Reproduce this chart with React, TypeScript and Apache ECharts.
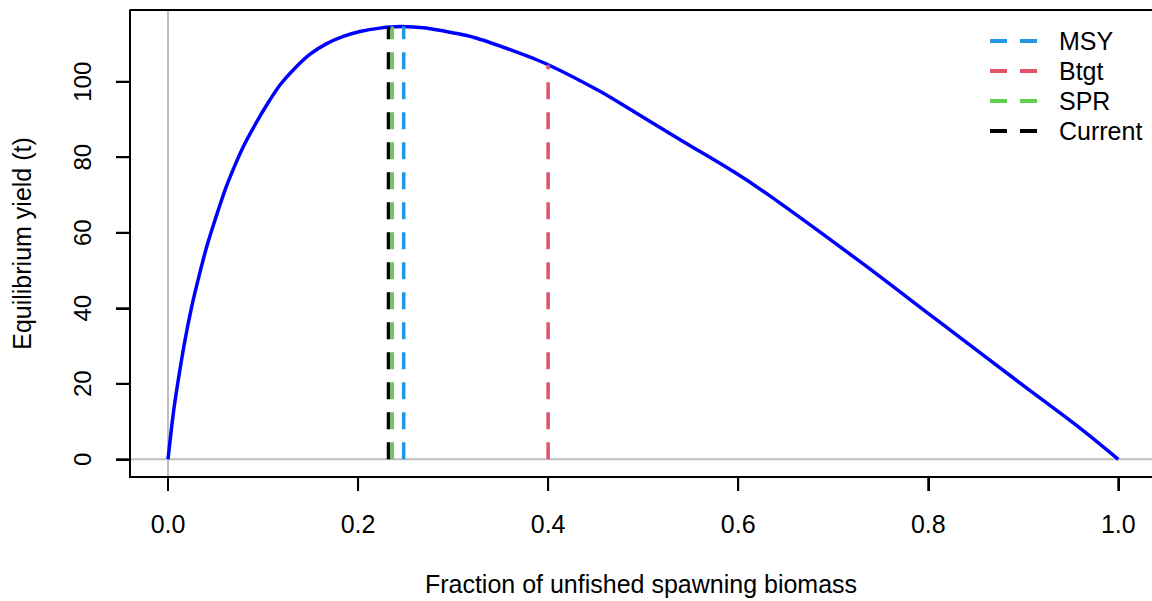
import React, { useEffect, useRef } from "react";
import * as echarts from "echarts";

// Equilibrium yield curve: [fraction of unfished spawning biomass, yield (t)]
const curveX = [0, 0.0056, 0.0108, 0.0179, 0.0249, 0.0319, 0.0407, 0.0495, 0.06, 0.0705, 0.081, 0.0934, 0.105, 0.118, 0.132, 0.1495, 0.167, 0.1845, 0.202, 0.223, 0.244, 0.262, 0.279, 0.321, 0.36, 0.4, 0.455, 0.49, 0.542, 0.595, 0.636, 0.728, 0.809, 0.897, 0.96, 1.0];
const curveY = [0, 12.2, 21.0, 31.6, 40.4, 47.8, 56.3, 63.4, 71.3, 77.9, 83.7, 89.4, 94.3, 99.2, 103.2, 107.3, 110.1, 112.0, 113.3, 114.2, 114.6, 114.4, 113.9, 111.8, 108.5, 104.5, 97.4, 92.1, 84.2, 76.2, 69.3, 52.4, 36.9, 20.1, 8.2, 0];

// Reference points (vertical dashed lines from 0 up to the curve)
const refNames = ["MSY", "Btgt", "SPR", "Current"];
const refX = [0.248, 0.4, 0.236, 0.232];
const refTop = [114.6, 104.5, 114.6, 114.5];
const refColors = ["#2297E6", "#DF536B", "#61D04F", "#000000"];

const xTicks = [0, 0.2, 0.4, 0.6, 0.8, 1.0];
const yTicks = [0, 20, 40, 60, 80, 100];

// Plot box limits (R style: data range extended by 4%)
const boxX = [-0.04, 1.04];
const boxY = [-4.69, 119.0];

const FONT = "'Liberation Sans', Arial, sans-serif";

export default function App() {
  const ref = useRef<HTMLDivElement>(null);
  useEffect(() => {
    if (!ref.current) return;
    const chart = echarts.init(ref.current, undefined, { renderer: "svg" });
    const dash = [17, 13];
    const tickLen = 14;

    const series: any[] = [
      {
        name: "ref0x",
        type: "line",
        data: [[0, boxY[0]], [0, boxY[1]]],
        symbol: "none",
        silent: true,
        clip: false,
        lineStyle: { color: "#BEBEBE", width: 2 },
        z: 1,
      },
      {
        name: "ref0y",
        type: "line",
        data: [[boxX[0], 0], [boxX[1], 0]],
        symbol: "none",
        silent: true,
        clip: false,
        lineStyle: { color: "#BEBEBE", width: 2 },
        z: 1,
      },
      {
        name: "Yield",
        type: "line",
        data: curveX.map((x, i) => [x, curveY[i]]),
        symbol: "none",
        smooth: 0.3,
        clip: false,
        lineStyle: { color: "#0000FF", width: 3.5 },
        z: 2,
      },
    ];
    refNames.forEach((n, i) => {
      series.push({
        name: n,
        type: "line",
        data: [[refX[i], 0], [refX[i], refTop[i]]],
        symbol: "none",
        clip: false,
        color: refColors[i],
        lineStyle: { color: refColors[i], width: 3.5, type: dash },
        z: 3 + i,
      });
    });
    series.push({
      name: "box",
      type: "line",
      data: [
        [boxX[0], boxY[0]],
        [boxX[1], boxY[0]],
        [boxX[1], boxY[1]],
        [boxX[0], boxY[1]],
        [boxX[0], boxY[0]],
      ],
      symbol: "none",
      silent: true,
      clip: false,
      lineStyle: { color: "#000", width: 2, cap: "square" },
      z: 10,
    });

    chart.setOption({
      animation: false,
      backgroundColor: "#ffffff",
      textStyle: { fontFamily: FONT },
      grid: { left: 130, top: 10, width: 1022, height: 467, show: false },
      legend: {
        data: refNames,
        orient: "vertical",
        left: 988,
        top: 28,
        padding: 0,
        itemGap: 4,
        itemWidth: 47,
        itemHeight: 2,
        selectedMode: false,
        itemStyle: { opacity: 0 },
        lineStyle: { width: 4 },
        textStyle: {
          fontFamily: FONT,
          fontSize: 25,
          color: "#000",
          lineHeight: 26,
          padding: [0, 0, 0, 17],
        },
      },
      xAxis: {
        type: "value",
        min: boxX[0],
        max: boxX[0] + 1022 / 950.3,
        name: "Fraction of unfished spawning biomass",
        nameLocation: "middle",
        nameGap: 94,
        nameTextStyle: { fontFamily: FONT, fontSize: 25, color: "#000" },
        axisLine: { show: false, onZero: false },
        splitLine: { show: false },
        axisTick: {
          show: true,
          inside: false,
          length: tickLen,
          customValues: xTicks,
          lineStyle: { color: "#000", width: 2 },
        },
        axisLabel: {
          customValues: xTicks,
          margin: 34,
          fontFamily: FONT,
          fontSize: 25,
          color: "#000",
          formatter: (v: number) => v.toFixed(1),
        },
      },
      yAxis: {
        type: "value",
        min: boxY[0],
        max: boxY[1],
        name: "Equilibrium yield (t)",
        nameLocation: "middle",
        nameGap: 96,
        nameRotate: 90,
        nameTextStyle: { fontFamily: FONT, fontSize: 25, color: "#000" },
        axisLine: { show: false, onZero: false },
        splitLine: { show: false },
        axisTick: {
          show: true,
          inside: false,
          length: tickLen,
          customValues: yTicks,
          lineStyle: { color: "#000", width: 2 },
        },
        axisLabel: {
          customValues: yTicks,
          rotate: 90,
          margin: 36,
          fontFamily: FONT,
          fontSize: 24,
          color: "#000",
          formatter: (v: number) => String(Math.round(v)),
        },
      },
      series,
    });

    // R-style outward tick marks, positioned through the chart's own scales
    const tickEls: any[] = [];
    xTicks.forEach((v) => {
      const p = chart.convertToPixel({ xAxisIndex: 0, yAxisIndex: 0 }, [v, boxY[0]]) as number[];
      tickEls.push({
        type: "line",
        silent: true,
        z: 50,
        shape: { x1: p[0], y1: p[1], x2: p[0], y2: p[1] + tickLen },
        style: { stroke: "#000", lineWidth: 2 },
      });
    });
    yTicks.forEach((v) => {
      const p = chart.convertToPixel({ xAxisIndex: 0, yAxisIndex: 0 }, [boxX[0], v]) as number[];
      tickEls.push({
        type: "line",
        silent: true,
        z: 50,
        shape: { x1: p[0], y1: p[1], x2: p[0] - tickLen, y2: p[1] },
        style: { stroke: "#000", lineWidth: 2 },
      });
    });
    chart.setOption({ graphic: tickEls });

    return () => chart.dispose();
  }, []);
  return (
    <div
      ref={ref}
      style={{ position: "absolute", left: 0, top: 0, width: 1152, height: 601 }}
    />
  );
}
